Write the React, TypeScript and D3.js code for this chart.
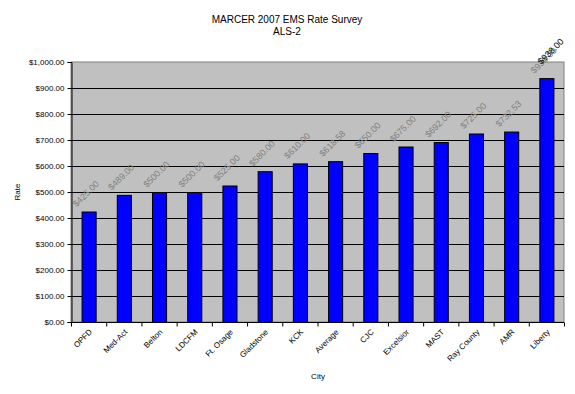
import React, { useEffect, useRef } from "react";
import * as d3 from "d3";

const cities = [
  "OPFD", "Med-Act", "Belton", "LDCFM", "Ft. Osage", "Gladstone", "KCK",
  "Average", "CJC", "Excelsior", "MAST", "Ray County", "AMR", "Liberty",
];
const rates = [425, 489, 500, 500, 525, 580, 610, 618.58, 650, 675, 692, 725, 732.53, 938];
const rateTicks = [0, 100, 200, 300, 400, 500, 600, 700, 800, 900, 1000];

const W = 575;
const H = 394;
const margin = { top: 62, right: 11, bottom: 72, left: 71 };
const money = (v: number) => "$" + d3.format(",.2f")(v);

export default function App() {
  const ref = useRef<SVGSVGElement>(null);

  useEffect(() => {
    const svg = d3.select(ref.current);
    svg.selectAll("*").remove();
    const font = "'Liberation Sans', Arial, sans-serif";
    svg.attr("font-family", font);

    const x = d3
      .scaleBand<string>()
      .domain(cities)
      .range([margin.left, W - margin.right])
      .paddingInner(0.6)
      .paddingOuter(0.3);
    const y = d3
      .scaleLinear()
      .domain([0, 1000])
      .range([H - margin.bottom, margin.top]);

    // plot background
    svg
      .append("rect")
      .attr("x", margin.left)
      .attr("y", margin.top)
      .attr("width", W - margin.left - margin.right)
      .attr("height", H - margin.top - margin.bottom)
      .attr("fill", "#c0c0c0")
      .attr("stroke", "#808080");

    // gridlines
    svg
      .append("g")
      .selectAll("line")
      .data(rateTicks.slice(1, -1))
      .join("line")
      .attr("x1", margin.left)
      .attr("x2", W - margin.right)
      .attr("y1", (d) => y(d) + 0.5)
      .attr("y2", (d) => y(d) + 0.5)
      .attr("stroke", "#000");

    // bars
    svg
      .append("g")
      .selectAll("rect")
      .data(rates)
      .join("rect")
      .attr("x", (_, i) => x(cities[i])! + 0.5)
      .attr("y", (d) => y(d) + 0.5)
      .attr("width", x.bandwidth())
      .attr("height", (d) => y(0) - y(d))
      .attr("fill", "#0000ff")
      .attr("stroke", "#000");

    // value labels
    svg
      .append("g")
      .selectAll("text")
      .data(rates)
      .join("text")
      .attr(
        "transform",
        (d, i) => `translate(${x(cities[i])! - 5},${y(d) - 4}) rotate(-45)`
      )
      .attr("font-size", 9)
      .attr("fill", "#808080")
      .text((d) => money(d));

    // overlapping black label on the last bar
    const last = rates.length - 1;
    svg
      .append("text")
      .attr(
        "transform",
        `translate(${x(cities[last])! + 2},${y(rates[last]) - 13}) rotate(-45)`
      )
      .attr("font-size", 9)
      .attr("fill", "#000")
      .text(money(rates[last]));

    // y axis
    const yAxis = svg
      .append("g")
      .attr("transform", `translate(${margin.left + 0.5},0)`)
      .call(
        d3
          .axisLeft(y)
          .tickValues(rateTicks)
          .tickSize(4)
          .tickPadding(3)
          .tickFormat((d) => money(d as number))
      );
    yAxis.select(".domain").attr("stroke", "#000");
    yAxis.selectAll("text").attr("font-size", 8).attr("font-family", font).attr("fill", "#000");

    // x axis
    const xAxis = svg
      .append("g")
      .attr("transform", `translate(0,${y(0) + 0.5})`);
    xAxis
      .append("line")
      .attr("x1", margin.left)
      .attr("x2", W - margin.right)
      .attr("stroke", "#000");
    const step = x.step();
    const edges = d3.range(cities.length + 1).map((i) => margin.left + i * step);
    xAxis
      .selectAll("line.tk")
      .data(edges)
      .join("line")
      .attr("class", "tk")
      .attr("x1", (d) => d + 0.5)
      .attr("x2", (d) => d + 0.5)
      .attr("y1", 0)
      .attr("y2", 4)
      .attr("stroke", "#000");
    xAxis
      .selectAll("text")
      .data(cities)
      .join("text")
      .attr("transform", (d) => `translate(${x(d)! + x.bandwidth() / 2 + 4},${10}) rotate(-45)`)
      .attr("text-anchor", "end")
      .attr("font-size", 8)
      .attr("fill", "#000")
      .text((d) => d);

    // titles
    svg
      .append("text")
      .attr("x", 287)
      .attr("y", 23)
      .attr("text-anchor", "middle")
      .attr("font-size", 10)
      .text("MARCER 2007 EMS Rate Survey");
    svg
      .append("text")
      .attr("x", 287)
      .attr("y", 35)
      .attr("text-anchor", "middle")
      .attr("font-size", 10)
      .text("ALS-2");
    svg
      .append("text")
      .attr("x", 318)
      .attr("y", 379)
      .attr("text-anchor", "middle")
      .attr("font-size", 8)
      .text("City");
    svg
      .append("text")
      .attr("transform", `translate(20,192) rotate(-90)`)
      .attr("text-anchor", "middle")
      .attr("font-size", 8)
      .text("Rate");
  }, []);

  return (
    <svg
      ref={ref}
      width={W}
      height={H}
      style={{ position: "absolute", left: 0, top: 0, background: "#fff" }}
    />
  );
}
